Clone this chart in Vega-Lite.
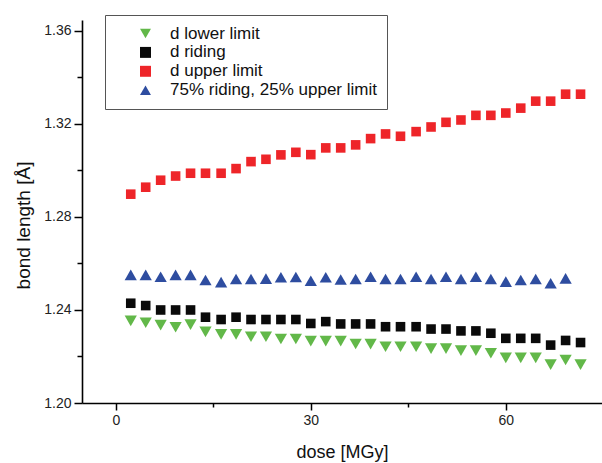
{
  "$schema": "https://vega.github.io/schema/vega-lite/v6.json",
  "width": 520,
  "height": 383,
  "autosize": {"type": "none"},
  "padding": {"left": 82, "top": 20, "right": 0, "bottom": 60},
  "background": "white",
  "config": {
    "view": {"stroke": null},
    "font": "Liberation Sans",
    "axis": {
      "grid": false,
      "domainColor": "#000000",
      "domainWidth": 1.6,
      "tickColor": "#000000",
      "tickWidth": 1.5,
      "labelFont": "Liberation Sans",
      "labelFontSize": 14,
      "labelColor": "#222222",
      "titleFont": "Liberation Sans",
      "titleFontWeight": "normal",
      "titleColor": "#111111"
    },
    "legend": {
      "labelFont": "Liberation Sans",
      "labelFontSize": 17,
      "labelColor": "#111111",
      "labelLimit": 400,
      "title": null,
      "orient": "none",
      "legendX": 23,
      "legendY": -5,
      "padding": 10,
      "rowPadding": 0.9,
      "symbolOffset": 22,
      "labelOffset": 16,
      "symbolSize": 120,
      "symbolStrokeWidth": 0,
      "strokeColor": "#555555",
      "fillColor": "white"
    }
  },
  "datasets": {
    "pts": [
      {"dose": 2.3, "series": "d lower limit", "length": 1.2353},
      {"dose": 4.6, "series": "d lower limit", "length": 1.2345},
      {"dose": 6.9, "series": "d lower limit", "length": 1.2335},
      {"dose": 9.2, "series": "d lower limit", "length": 1.2326},
      {"dose": 11.5, "series": "d lower limit", "length": 1.2337},
      {"dose": 13.8, "series": "d lower limit", "length": 1.2306},
      {"dose": 16.2, "series": "d lower limit", "length": 1.2295},
      {"dose": 18.5, "series": "d lower limit", "length": 1.2295},
      {"dose": 20.8, "series": "d lower limit", "length": 1.2285},
      {"dose": 23.1, "series": "d lower limit", "length": 1.2285},
      {"dose": 25.4, "series": "d lower limit", "length": 1.2275},
      {"dose": 27.7, "series": "d lower limit", "length": 1.2275},
      {"dose": 30.0, "series": "d lower limit", "length": 1.2266},
      {"dose": 32.3, "series": "d lower limit", "length": 1.2266},
      {"dose": 34.6, "series": "d lower limit", "length": 1.2266},
      {"dose": 36.9, "series": "d lower limit", "length": 1.2254},
      {"dose": 39.2, "series": "d lower limit", "length": 1.2253},
      {"dose": 41.5, "series": "d lower limit", "length": 1.2242},
      {"dose": 43.8, "series": "d lower limit", "length": 1.2242},
      {"dose": 46.2, "series": "d lower limit", "length": 1.2242},
      {"dose": 48.5, "series": "d lower limit", "length": 1.2234},
      {"dose": 50.8, "series": "d lower limit", "length": 1.2234},
      {"dose": 53.1, "series": "d lower limit", "length": 1.2225},
      {"dose": 55.4, "series": "d lower limit", "length": 1.2225},
      {"dose": 57.7, "series": "d lower limit", "length": 1.2214},
      {"dose": 60.0, "series": "d lower limit", "length": 1.2194},
      {"dose": 62.3, "series": "d lower limit", "length": 1.2194},
      {"dose": 64.6, "series": "d lower limit", "length": 1.2194},
      {"dose": 66.9, "series": "d lower limit", "length": 1.2165},
      {"dose": 69.2, "series": "d lower limit", "length": 1.2185},
      {"dose": 71.5, "series": "d lower limit", "length": 1.2165},

      {"dose": 2.3, "series": "d riding", "length": 1.2429},
      {"dose": 4.6, "series": "d riding", "length": 1.2419},
      {"dose": 6.9, "series": "d riding", "length": 1.2400},
      {"dose": 9.2, "series": "d riding", "length": 1.2400},
      {"dose": 11.5, "series": "d riding", "length": 1.2400},
      {"dose": 13.8, "series": "d riding", "length": 1.2369},
      {"dose": 16.2, "series": "d riding", "length": 1.2359},
      {"dose": 18.5, "series": "d riding", "length": 1.2369},
      {"dose": 20.8, "series": "d riding", "length": 1.2359},
      {"dose": 23.1, "series": "d riding", "length": 1.2359},
      {"dose": 25.4, "series": "d riding", "length": 1.2359},
      {"dose": 27.7, "series": "d riding", "length": 1.2359},
      {"dose": 30.0, "series": "d riding", "length": 1.2342},
      {"dose": 32.3, "series": "d riding", "length": 1.2350},
      {"dose": 34.6, "series": "d riding", "length": 1.2340},
      {"dose": 36.9, "series": "d riding", "length": 1.2340},
      {"dose": 39.2, "series": "d riding", "length": 1.2340},
      {"dose": 41.5, "series": "d riding", "length": 1.2328},
      {"dose": 43.8, "series": "d riding", "length": 1.2328},
      {"dose": 46.2, "series": "d riding", "length": 1.2328},
      {"dose": 48.5, "series": "d riding", "length": 1.2318},
      {"dose": 50.8, "series": "d riding", "length": 1.2318},
      {"dose": 53.1, "series": "d riding", "length": 1.2310},
      {"dose": 55.4, "series": "d riding", "length": 1.2310},
      {"dose": 57.7, "series": "d riding", "length": 1.2300},
      {"dose": 60.0, "series": "d riding", "length": 1.2278},
      {"dose": 62.3, "series": "d riding", "length": 1.2278},
      {"dose": 64.6, "series": "d riding", "length": 1.2278},
      {"dose": 66.9, "series": "d riding", "length": 1.2249},
      {"dose": 69.2, "series": "d riding", "length": 1.2269},
      {"dose": 71.5, "series": "d riding", "length": 1.2260},

      {"dose": 2.3, "series": "d upper limit", "length": 1.2898},
      {"dose": 4.6, "series": "d upper limit", "length": 1.2928},
      {"dose": 6.9, "series": "d upper limit", "length": 1.2958},
      {"dose": 9.2, "series": "d upper limit", "length": 1.2976},
      {"dose": 11.5, "series": "d upper limit", "length": 1.2988},
      {"dose": 13.8, "series": "d upper limit", "length": 1.2988},
      {"dose": 16.2, "series": "d upper limit", "length": 1.2988},
      {"dose": 18.5, "series": "d upper limit", "length": 1.3008},
      {"dose": 20.8, "series": "d upper limit", "length": 1.3038},
      {"dose": 23.1, "series": "d upper limit", "length": 1.3048},
      {"dose": 25.4, "series": "d upper limit", "length": 1.3067},
      {"dose": 27.7, "series": "d upper limit", "length": 1.3078},
      {"dose": 30.0, "series": "d upper limit", "length": 1.3068},
      {"dose": 32.3, "series": "d upper limit", "length": 1.3097},
      {"dose": 34.6, "series": "d upper limit", "length": 1.3097},
      {"dose": 36.9, "series": "d upper limit", "length": 1.3110},
      {"dose": 39.2, "series": "d upper limit", "length": 1.3137},
      {"dose": 41.5, "series": "d upper limit", "length": 1.3157},
      {"dose": 43.8, "series": "d upper limit", "length": 1.3147},
      {"dose": 46.2, "series": "d upper limit", "length": 1.3167},
      {"dose": 48.5, "series": "d upper limit", "length": 1.3187},
      {"dose": 50.8, "series": "d upper limit", "length": 1.3207},
      {"dose": 53.1, "series": "d upper limit", "length": 1.3217},
      {"dose": 55.4, "series": "d upper limit", "length": 1.3237},
      {"dose": 57.7, "series": "d upper limit", "length": 1.3237},
      {"dose": 60.0, "series": "d upper limit", "length": 1.3247},
      {"dose": 62.3, "series": "d upper limit", "length": 1.3268},
      {"dose": 64.6, "series": "d upper limit", "length": 1.3298},
      {"dose": 66.9, "series": "d upper limit", "length": 1.3298},
      {"dose": 69.2, "series": "d upper limit", "length": 1.3328},
      {"dose": 71.5, "series": "d upper limit", "length": 1.3328},

      {"dose": 2.3, "series": "75% riding, 25% upper limit", "length": 1.2551},
      {"dose": 4.6, "series": "75% riding, 25% upper limit", "length": 1.2551},
      {"dose": 6.9, "series": "75% riding, 25% upper limit", "length": 1.2543},
      {"dose": 9.2, "series": "75% riding, 25% upper limit", "length": 1.2551},
      {"dose": 11.5, "series": "75% riding, 25% upper limit", "length": 1.2551},
      {"dose": 13.8, "series": "75% riding, 25% upper limit", "length": 1.2529},
      {"dose": 16.2, "series": "75% riding, 25% upper limit", "length": 1.2520},
      {"dose": 18.5, "series": "75% riding, 25% upper limit", "length": 1.2533},
      {"dose": 20.8, "series": "75% riding, 25% upper limit", "length": 1.2533},
      {"dose": 23.1, "series": "75% riding, 25% upper limit", "length": 1.2535},
      {"dose": 25.4, "series": "75% riding, 25% upper limit", "length": 1.2541},
      {"dose": 27.7, "series": "75% riding, 25% upper limit", "length": 1.2542},
      {"dose": 30.0, "series": "75% riding, 25% upper limit", "length": 1.2526},
      {"dose": 32.3, "series": "75% riding, 25% upper limit", "length": 1.2541},
      {"dose": 34.6, "series": "75% riding, 25% upper limit", "length": 1.2531},
      {"dose": 36.9, "series": "75% riding, 25% upper limit", "length": 1.2533},
      {"dose": 39.2, "series": "75% riding, 25% upper limit", "length": 1.2543},
      {"dose": 41.5, "series": "75% riding, 25% upper limit", "length": 1.2533},
      {"dose": 43.8, "series": "75% riding, 25% upper limit", "length": 1.2533},
      {"dose": 46.2, "series": "75% riding, 25% upper limit", "length": 1.2543},
      {"dose": 48.5, "series": "75% riding, 25% upper limit", "length": 1.2533},
      {"dose": 50.8, "series": "75% riding, 25% upper limit", "length": 1.2543},
      {"dose": 53.1, "series": "75% riding, 25% upper limit", "length": 1.2533},
      {"dose": 55.4, "series": "75% riding, 25% upper limit", "length": 1.2543},
      {"dose": 57.7, "series": "75% riding, 25% upper limit", "length": 1.2533},
      {"dose": 60.0, "series": "75% riding, 25% upper limit", "length": 1.2522},
      {"dose": 62.3, "series": "75% riding, 25% upper limit", "length": 1.2529},
      {"dose": 64.6, "series": "75% riding, 25% upper limit", "length": 1.2533},
      {"dose": 66.9, "series": "75% riding, 25% upper limit", "length": 1.2515},
      {"dose": 69.2, "series": "75% riding, 25% upper limit", "length": 1.2536}
    ]
  },
  "data": {"name": "pts"},
  "encoding": {
    "x": {
      "field": "dose",
      "type": "quantitative",
      "scale": {"domain": [-5.2, 74.8], "nice": false, "zero": false},
      "axis": {
        "title": "dose [MGy]",
        "titleFontSize": 18,
        "titlePadding": 16,
        "values": [0, 15, 30, 45, 60],
        "labelExpr": "datum.value % 30 === 0 ? datum.label : ''",
        "tickSize": {"condition": {"test": "datum.value % 30 === 0", "value": 7}, "value": 4},
        "labelPadding": 3
      }
    },
    "y": {
      "field": "length",
      "type": "quantitative",
      "scale": {"domain": [1.2, 1.3647], "nice": false, "zero": false},
      "axis": {
        "title": "bond length [Å]",
        "titleFontSize": 19,
        "titleX": -53,
        "titleY": 205,
        "titleBaseline": "alphabetic",
        "values": [1.2, 1.22, 1.24, 1.26, 1.28, 1.3, 1.32, 1.34, 1.36],
        "labelExpr": "round(datum.value * 100) % 4 === 0 ? format(datum.value, '.2f') : ''",
        "tickSize": {"condition": {"test": "round(datum.value * 100) % 4 === 0", "value": 8}, "value": 5},
        "labelPadding": 3
      }
    },
    "color": {
      "field": "series",
      "type": "nominal",
      "scale": {
        "domain": ["d lower limit", "d riding", "d upper limit", "75% riding, 25% upper limit"],
        "range": ["#62B849", "#0A0A0A", "#EE2529", "#2E4DA0"]
      },
      "legend": {"labelExpr": "datum.label + '\u00a0'"}
    },
    "shape": {
      "field": "series",
      "type": "nominal",
      "scale": {
        "domain": ["d lower limit", "d riding", "d upper limit", "75% riding, 25% upper limit"],
        "range": ["triangle-down", "square", "square", "triangle-up"]
      },
      "legend": {"labelExpr": "datum.label + '\u00a0'"}
    }
  },
  "layer": [
    {
      "transform": [{"filter": {"field": "series", "oneOf": ["d riding", "d upper limit"]}}],
      "mark": {"type": "point", "filled": true, "opacity": 1, "strokeWidth": 0, "size": 92}
    },
    {
      "transform": [{"filter": {"field": "series", "oneOf": ["d lower limit", "75% riding, 25% upper limit"]}}],
      "mark": {"type": "point", "filled": true, "opacity": 1, "strokeWidth": 0, "size": 150}
    }
  ]
}
